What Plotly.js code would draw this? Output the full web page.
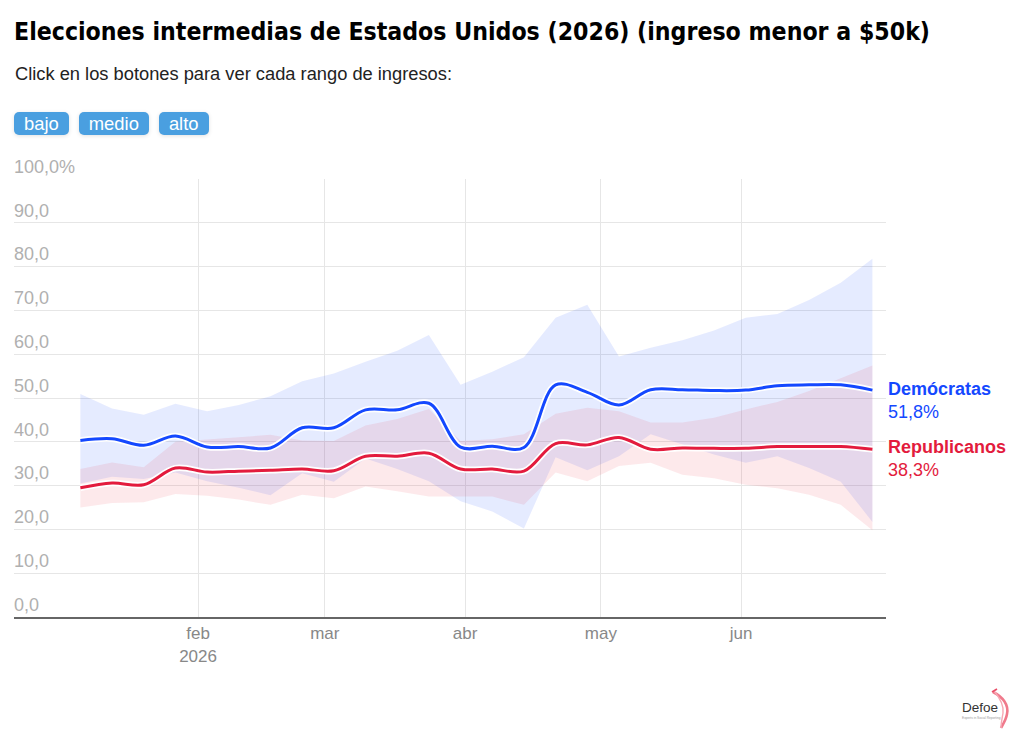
<!DOCTYPE html>
<html>
<head>
<meta charset="utf-8">
<script src="https://cdn.plot.ly/plotly-3.0.1.min.js"></script>
<style>
  html, body { margin: 0; padding: 0; background: #fff; }
  #wrap { position: relative; width: 1024px; height: 740px; }
  #chart { width: 1024px; height: 740px; }
  .btns { position: absolute; left: 14px; top: 112px; display: flex; gap: 10px; }
  .btns button {
    font-family: "Liberation Sans", Arial, sans-serif; font-size: 18.4px; color: #fff;
    background: #4a9fe0; border: none; border-radius: 5px; height: 23px;
    padding: 0 10px; line-height: 23px; cursor: pointer;
    box-shadow: 0 1px 4px rgba(0,0,0,0.12);
  }
  #logo { position: absolute; left: 955px; top: 686px; width: 64px; height: 44px; }
</style>
</head>
<body>
<div id="wrap">
  <div id="chart"></div>
  <div class="btns">
    <button id="b-bajo">bajo</button>
    <button id="b-medio">medio</button>
    <button id="b-alto">alto</button>
  </div>
  <svg id="logo" viewBox="0 0 64 44">
    <path d="M38 6 C48 11 54 19 52 28 C51 34 48 38 46 42" fill="none" stroke="#f07a8c" stroke-width="2.6"/>
    <path d="M39 5 C45 12 49 19 48 27 C47 33 46 37 46 42" fill="none" stroke="#f6a8b4" stroke-width="1.4"/>
    <path d="M37 6 L42 3" fill="none" stroke="#e84c66" stroke-width="1.6"/>
    <text x="7" y="26" font-family="Liberation Sans, Arial, sans-serif" font-size="13.5" fill="#333">Defoe</text>
    <text x="7" y="33" font-family="Liberation Sans, Arial, sans-serif" font-size="3.2" fill="#999">Experts in Social Reporting</text>
  </svg>
</div>
<script>
// Weekly dates
var fechas = ["2026-01-06","2026-01-13","2026-01-20","2026-01-27","2026-02-03","2026-02-10",
  "2026-02-17","2026-02-24","2026-03-03","2026-03-10","2026-03-17","2026-03-24","2026-03-31",
  "2026-04-07","2026-04-14","2026-04-21","2026-04-28","2026-05-05","2026-05-12","2026-05-19",
  "2026-05-26","2026-06-02","2026-06-09","2026-06-16","2026-06-23","2026-06-30"];

// Demócratas
var demLinea = [40.3,40.7,39.2,41.3,38.8,38.9,38.6,43.2,43.2,47.3,47.3,48.8,38.8,39.0,38.7,
  53.0,51.3,48.4,51.9,51.9,51.7,51.8,52.8,53.0,53.0,51.8];
var demSup = [50.9,47.6,46.2,48.7,47.0,48.4,50.4,53.8,55.6,58.3,60.8,64.4,53.0,56.0,59.3,
  68.3,71.3,59.5,61.5,63.2,65.4,68.3,69.2,72.4,76.3,81.8];
var demInf = [30.5,32.0,31.5,33.0,31.0,29.5,27.8,32.8,30.9,36.2,33.8,31.0,26.4,24.1,20.2,
  36.5,33.5,36.7,41.7,39.4,37.1,35.2,36.7,34.0,30.9,21.7];

// Republicanos
var repLinea = [29.5,30.6,30.2,34.0,33.1,33.3,33.5,33.8,33.4,36.7,36.7,37.4,33.8,33.8,33.3,
  39.6,39.3,41.0,38.3,38.6,38.5,38.5,38.9,38.9,38.9,38.3];
var repSup = [33.8,35.3,34.2,40.0,40.5,41.0,41.6,40.3,40.2,43.7,45.2,47.5,40.2,40.6,41.7,
  46.4,47.8,47.0,44.4,44.4,45.5,47.4,49.1,51.6,54.5,57.4];
var repInf = [25.0,26.0,26.2,28.1,27.7,26.8,25.6,27.9,27.1,29.8,28.7,27.5,27.5,27.5,25.6,
  33.0,31.0,34.5,35.2,32.5,31.7,30.2,29.4,27.9,25.6,19.8];

// Axis ticks
var yTicks = [0,10,20,30,40,50,60,70,80,90,100];
var yTickText = ["0,0","10,0","20,0","30,0","40,0","50,0","60,0","70,0","80,0","90,0","100,0%"];
var xTicks = ["2026-02-01","2026-03-01","2026-04-01","2026-05-01","2026-06-01"];
var xTickText = ["feb<br>2026","mar","abr","may","jun"];

var ultimoDem = demLinea[demLinea.length - 1];
var ultimoRep = repLinea[repLinea.length - 1];
function fmt(v) { return v.toFixed(1).replace(".", ",") + "%"; }

var AZUL = "#1448ff", ROJO = "#e31b3d";

var traces = [
  {x: fechas, y: demInf, mode: "lines", line: {width: 0}, hoverinfo: "skip", showlegend: false},
  {x: fechas, y: demSup, mode: "lines", line: {width: 0}, fill: "tonexty",
   fillcolor: "rgba(0,60,255,0.10)", hoverinfo: "skip", showlegend: false},
  {x: fechas, y: repInf, mode: "lines", line: {width: 0}, hoverinfo: "skip", showlegend: false},
  {x: fechas, y: repSup, mode: "lines", line: {width: 0}, fill: "tonexty",
   fillcolor: "rgba(235,40,60,0.10)", hoverinfo: "skip", showlegend: false},
  {x: fechas, y: demLinea, mode: "lines", line: {color: "#ffffff", width: 6.5, shape: "spline", smoothing: 1},
   hoverinfo: "skip", showlegend: false},
  {x: fechas, y: demLinea, mode: "lines", name: "Demócratas",
   line: {color: AZUL, width: 3, shape: "spline", smoothing: 1}, showlegend: false},
  {x: fechas, y: repLinea, mode: "lines", line: {color: "#ffffff", width: 6.5, shape: "spline", smoothing: 1},
   hoverinfo: "skip", showlegend: false},
  {x: fechas, y: repLinea, mode: "lines", name: "Republicanos",
   line: {color: ROJO, width: 3, shape: "spline", smoothing: 1}, showlegend: false}
];

var layout = {
  width: 1024, height: 740,
  margin: {l: 14, r: 138, t: 179, b: 123},
  paper_bgcolor: "#fff", plot_bgcolor: "#fff",
  font: {family: "Liberation Sans, Arial, sans-serif"},
  separators: ",.",
  title: {
    text: "Elecciones intermedias de Estados Unidos (2026) (ingreso menor a $50k)",
    font: {family: "DejaVu Sans Condensed, Liberation Sans Narrow, Arial Narrow, sans-serif",
           size: 24.6, weight: "bold", color: "#000"},
    xref: "paper", x: 0, xanchor: "left",
    yref: "container", y: 1 - 31/740, yanchor: "middle",
    pad: {l: 0, t: 0, b: 0, r: 0}
  },
  xaxis: {
    type: "date",
    range: ["2025-12-22 08:00", "2026-07-03"],
    tickvals: xTicks, ticktext: xTickText,
    showgrid: true, gridcolor: "#e6e6e6", gridwidth: 1,
    showline: true, linecolor: "#666", linewidth: 2,
    ticks: "", tickfont: {size: 17, color: "#888"},
    zeroline: false, fixedrange: true
  },
  yaxis: {
    range: [0, 100],
    tickvals: yTicks, ticktext: yTickText,
    ticklabelposition: "inside top",
    ticklabeloverflow: "allow",
    ticklabelstandoff: -3,
    showgrid: true, gridcolor: "#e6e6e6", gridwidth: 1,
    ticks: "", tickfont: {size: 18, color: "#b0b0b0"},
    zeroline: false, showline: false, fixedrange: true
  },
  annotations: [
    {xref: "paper", yref: "paper", x: 0, y: (617 - 74) / 438, xanchor: "left", yanchor: "middle",
     xshift: -1, showarrow: false, align: "left",
     text: "Click en los botones para ver cada rango de ingresos:",
     font: {size: 18.3, color: "#222"}},
    {xref: "paper", yref: "y", x: 1, y: 49.4, xanchor: "left", yanchor: "middle", showarrow: false,
     align: "left", text: "<b>Demócratas</b><br>" + fmt(ultimoDem), font: {size: 18, color: AZUL}},
    {xref: "paper", yref: "y", x: 1, y: 36.2, xanchor: "left", yanchor: "middle", showarrow: false,
     align: "left", text: "<b>Republicanos</b><br>" + fmt(ultimoRep), font: {size: 18, color: ROJO}}
  ],
  hovermode: false,
  showlegend: false
};

function ajustarTitulo(gd) {
  var t = gd.querySelector(".gtitle");
  if (t) {
    t.setAttribute("textLength", "916");
    t.setAttribute("lengthAdjust", "spacingAndGlyphs");
  }
}

Plotly.newPlot("chart", traces, layout, {displayModeBar: false}).then(function (gd) {
  ajustarTitulo(gd);
  gd.on("plotly_afterplot", function () { ajustarTitulo(gd); });
});
</script>
</body>
</html>
